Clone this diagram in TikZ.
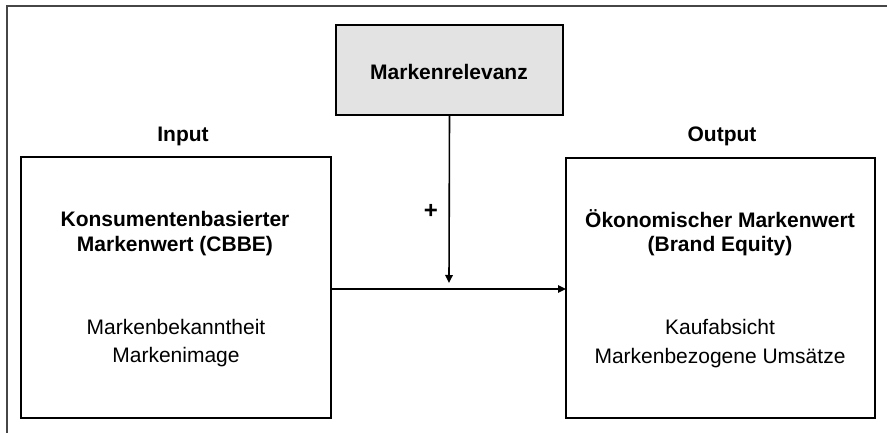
\documentclass[tikz,border=0pt]{standalone}
\usepackage{fontspec}
\setmainfont{Liberation Sans}
\usetikzlibrary{arrows.meta}
\definecolor{framegray}{RGB}{70,70,70}
\definecolor{boxfill}{RGB}{227,227,227}
\tikzset{
  every node/.style={inner sep=0pt, outer sep=0pt},
  block/.style={draw=black, line width=1.6pt, rectangle, anchor=north west},
  head/.style={font=\fontsize{21}{25}\selectfont\bfseries},
  item/.style={font=\fontsize{21}{25}\selectfont},
  link/.style={line width=1.6pt, -{Triangle[length=8pt,width=7.5pt]}}
}
\begin{document}
\begin{tikzpicture}[x=1pt,y=-1pt]
  \useasboundingbox (0,0) rectangle (887,433);
  % open frame: top and left edges only
  \draw[framegray, line width=2pt] (887,6.5) -- (6.5,6.5) -- (6.5,433);

  % boxes
  \node[block, fill=boxfill, minimum width=227pt, minimum height=90pt] (rel) at (336,25) {};
  \node[block, minimum width=310pt, minimum height=261pt] (cbbe) at (21,157) {};
  \node[block, minimum width=309pt, minimum height=260pt] (equity) at (566,158) {};

  % labels
  \node[head] (relt) at (449,72) {Markenrelevanz};
  \node[head] (inp) at (183,136) {Input};
  \node[head] (outp) at (722,136) {Output};
  \node[head, font=\fontsize{24}{28}\selectfont\bfseries] (plus) at (431,211) {+};

  \node[head] (c1) at (175,219) {Konsumentenbasierter};
  \node[head] (c2) at (175,246) {Markenwert (CBBE)};
  \node[item] (c3) at (176,327) {Markenbekanntheit};
  \node[item] (c4) at (176,357) {Markenimage};

  \node[head] (e1) at (720,219) {Ökonomischer Markenwert};
  \node[head] (e2) at (720,246) {(Brand Equity)};
  \node[item] (e3) at (720,327) {Kaufabsicht};
  \node[item] (e4) at (720,358) {Markenbezogene Umsätze};

  % connectors
  \coordinate (meet) at (449,283);
  \draw[link] (rel.south) -- (meet);
  \draw[link] (cbbe.east |- 0,289) -- (equity.west |- 0,289);
\end{tikzpicture}
\end{document}
